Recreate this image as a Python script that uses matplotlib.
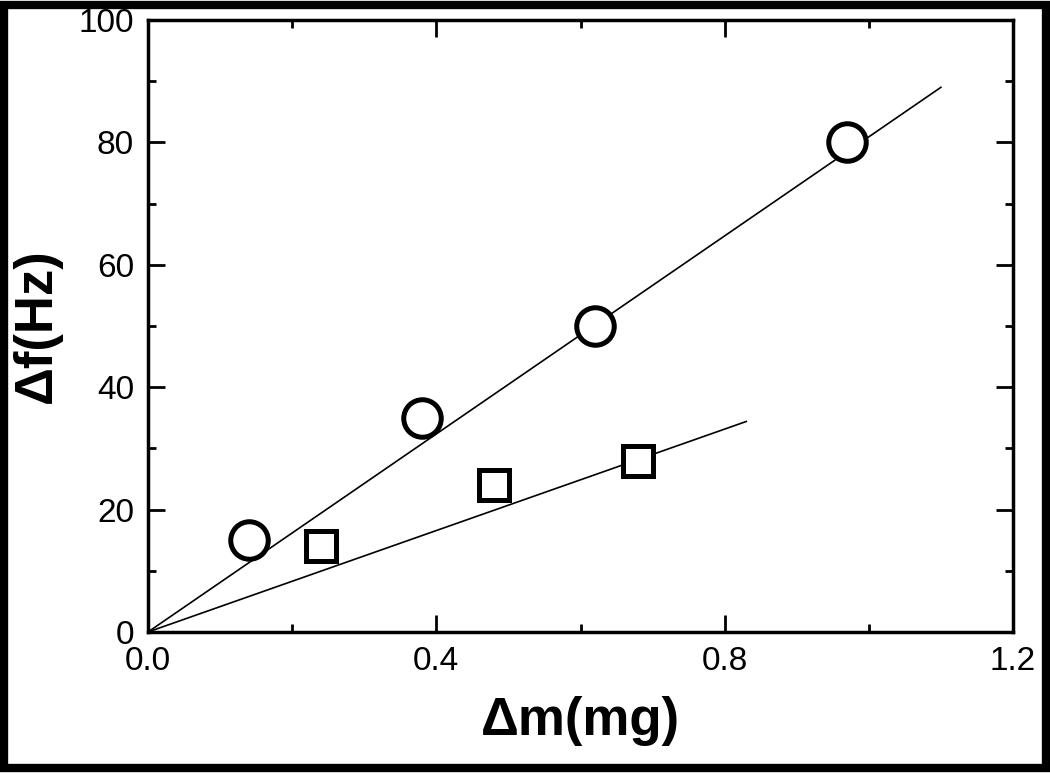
import matplotlib.pyplot as plt
from matplotlib.patches import Rectangle
from matplotlib.ticker import MultipleLocator

plt.rcParams['font.family'] = ['Liberation Sans', 'DejaVu Sans']

# data
circ_x = [0.14, 0.38, 0.62, 0.97]
circ_y = [15, 35, 50, 80]
sq_x = [0.24, 0.48, 0.68]
sq_y = [14, 24, 28]
circ_fit_x = [0.0, 1.1]
circ_fit_y = [0.0, 89]
sq_fit_x = [0.0, 0.83]
sq_fit_y = [0.0, 34.4]

fig = plt.figure(figsize=(10.5, 7.73), dpi=100)
ax = fig.add_axes([148/1050, 1 - 632/773, 865/1050, 612/773])

ax.plot(circ_fit_x, circ_fit_y, color='black', lw=1.2)
ax.plot(sq_fit_x, sq_fit_y, color='black', lw=1.2)
ax.plot(circ_x, circ_y, 'o', ms=27, mfc='white', mec='black', mew=3.6, ls='none')
ax.plot(sq_x, sq_y, 's', ms=22, mfc='white', mec='black', mew=3.6, ls='none')

ax.set_xlim(0, 1.2)
ax.set_ylim(0, 100)
ax.xaxis.set_major_locator(MultipleLocator(0.4))
ax.xaxis.set_minor_locator(MultipleLocator(0.2))
ax.yaxis.set_major_locator(MultipleLocator(20))
ax.yaxis.set_minor_locator(MultipleLocator(10))
ax.xaxis.set_major_formatter(plt.FuncFormatter(lambda v, p: f'{v:.1f}'))
ax.tick_params(which='both', direction='in', top=True, right=True, width=2)
ax.tick_params(which='major', length=12, labelsize=24, pad=10)
ax.tick_params(which='minor', length=6)
for s in ax.spines.values():
    s.set_linewidth(2.5)

ax.set_xlabel('Δm(mg)', fontsize=38, fontweight='bold', labelpad=14)
ax.set_ylabel('Δf(Hz)', fontsize=38, fontweight='bold', labelpad=12)

fig.patches.append(Rectangle((0.004, 0.006), 0.992, 0.988, transform=fig.transFigure,
                             fill=False, lw=6, edgecolor='black'))

fig.savefig('out.png', dpi=100)
